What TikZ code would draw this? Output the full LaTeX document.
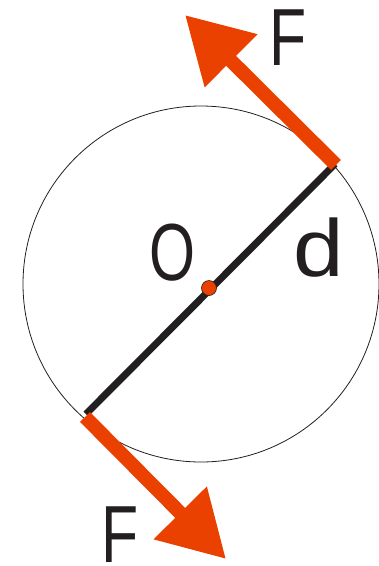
\documentclass[tikz,border=0pt]{standalone}
\usepackage{fontspec}
\setmainfont{Liberation Sans}
\usetikzlibrary{arrows.meta}
\definecolor{force}{RGB}{234,64,0}
\definecolor{ink}{RGB}{35,31,32}
\tikzset{
  lbl/.style={inner sep=0pt, text=ink, font=\fontsize{81}{81}\selectfont},
  forcearrow/.style={draw=force, line width=14pt, line cap=butt,
    -{Triangle[length=65pt,width=71pt]}},
  diam/.style={draw=ink, line width=7pt},
}
\begin{document}
\begin{tikzpicture}[x=1pt,y=-1pt]
\useasboundingbox (0,0) rectangle (379,566);
% circle
\coordinate (C) at (201,284);
\draw[ink, line width=0.8pt] (C) circle[radius=178];
% diameter
\coordinate (A) at (86,414);
\coordinate (B) at (335,164);
\draw[diam] (A) -- (B);
% forces
\coordinate (T1) at (185,15);
\coordinate (S1) at (336,165);
\coordinate (S2) at (85,417);
\coordinate (T2) at (226,559);
\path[forcearrow] (S1) -- (T1);
\path[forcearrow] (S2) -- (T2);
% centre dot
\node[circle, fill=force, draw=ink, line width=0.6pt, minimum size=15pt, inner sep=0pt] (O) at (209,288) {};
% labels
\node[lbl, anchor=south] (F1) at (288,66) {\scalebox{0.75}[1]{F}};
\node[lbl, anchor=south] (F2) at (120,563) {\scalebox{0.75}[1]{F}};
\node[lbl] (Olbl) at (172,252.5) {\scalebox{0.73}[1]{O}};
\node[lbl, anchor=south] (dlbl) at (318.5,277) {\scalebox{1.12}[1]{d}};
\end{tikzpicture}
\end{document}
